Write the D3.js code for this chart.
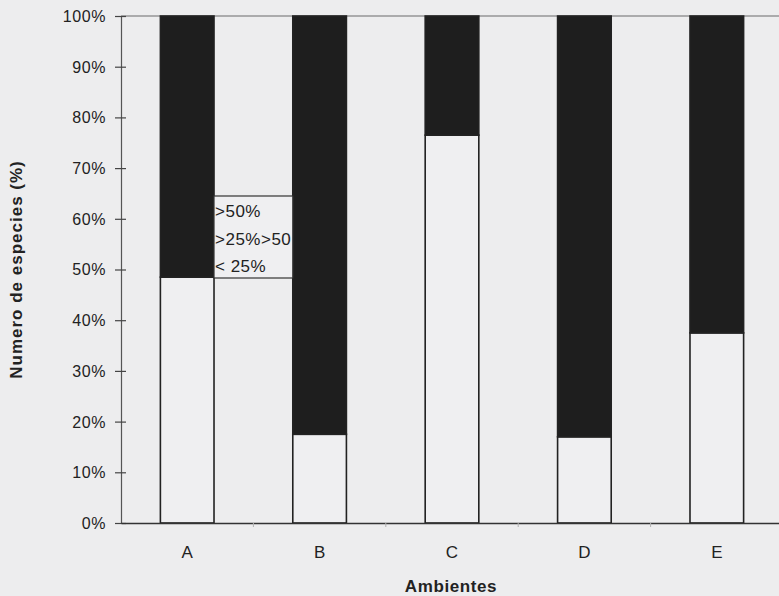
<!DOCTYPE html>
<html>
<head>
<meta charset="utf-8">
<script src="https://cdn.jsdelivr.net/npm/d3@7"></script>
<style>
  html, body { margin: 0; padding: 0; background: #ededee; }
  svg { display: block; }
  text { font-family: "Liberation Sans", Arial, sans-serif; }
</style>
</head>
<body>
<svg id="chart" width="779" height="596"></svg>
<script>
// ---- data ----
const categories = ["A", "B", "C", "D", "E"];
const seriesNames = ["< 25%", ">25%>50", ">50%"];
const lt25 = [48.5, 17.5, 76.5, 17, 37.5];
const mid2550 = [0, 0, 0, 0, 0];
const gt50 = [51.5, 82.5, 23.5, 83, 62.5];
const yTicks = [0, 10, 20, 30, 40, 50, 60, 70, 80, 90, 100];
const legendLabels = [">50%", ">25%>50", "< 25%"];

const colors = { "< 25%": "#efeff1", ">25%>50": "#8c8c8c", ">50%": "#1e1e1e" };

const svg = d3.select("#chart");
const mLeft = 121, mTop = 16, mBottom = 523, mRight = 783;

const x = d3.scaleBand().domain(categories).range([mLeft, mRight]).padding(0);
const y = d3.scaleLinear().domain([0, 100]).range([mBottom, mTop]);

const rows = categories.map((c, i) => ({ cat: c, "< 25%": lt25[i], ">25%>50": mid2550[i], ">50%": gt50[i] }));
const stacked = d3.stack().keys(seriesNames)(rows);

// top border line
svg.append("line").attr("x1", mLeft).attr("x2", 779).attr("y1", y(100)).attr("y2", y(100))
  .attr("stroke", "#6a6a6a").attr("stroke-width", 1.2);

const barW = x.bandwidth() * 0.405;

svg.append("g").selectAll("g").data(stacked).join("g")
  .attr("fill", d => colors[d.key])
  .selectAll("rect").data(d => d.filter(p => p[1] - p[0] > 0)).join("rect")
  .attr("x", d => x(d.data.cat) + x.bandwidth() / 2 - barW / 2)
  .attr("width", barW)
  .attr("y", d => y(d[1]))
  .attr("height", d => y(d[0]) - y(d[1]))
  .attr("stroke", "#222")
  .attr("stroke-width", 1.6);

// y axis
const yAxis = svg.append("g").attr("transform", `translate(${mLeft},0)`)
  .call(d3.axisLeft(y).tickValues(yTicks).tickFormat(d => d + "%").tickSize(6).tickPadding(9));
yAxis.select(".domain").attr("stroke", "#555").attr("stroke-width", 1.2);
yAxis.selectAll(".tick line").attr("x1", 5).attr("stroke", "#444").attr("stroke-width", 1.2);
yAxis.selectAll(".tick text").attr("font-size", 16).attr("fill", "#222")
  .attr("letter-spacing", "0.6px")
  .attr("font-family", "'Liberation Sans', Arial, sans-serif").attr("dy", "0.34em");

// x axis
const xAxis = svg.append("g").attr("transform", `translate(0,${mBottom})`)
  .call(d3.axisBottom(x).tickSize(0).tickPadding(23));
xAxis.select(".domain").attr("stroke", "#333").attr("stroke-width", 1.6);
xAxis.selectAll(".tick text").attr("font-size", 17).attr("fill", "#222")
  .attr("font-family", "'Liberation Sans', Arial, sans-serif");
// faint boundary ticks between categories
svg.append("g").selectAll("line").data(categories.slice(1)).join("line")
  .attr("x1", d => x(d)).attr("x2", d => x(d))
  .attr("y1", mBottom).attr("y2", mBottom + 4)
  .attr("stroke", "#b0b0b0").attr("stroke-width", 1);

// axis titles
svg.append("text")
  .attr("transform", `translate(22,${(mTop + mBottom) / 2}) rotate(-90)`)
  .attr("text-anchor", "middle").attr("font-size", 17).attr("font-weight", "bold").attr("fill", "#222")
  .attr("letter-spacing", "1px")
  .text("Numero de especies (%)");
svg.append("text")
  .attr("x", 451).attr("y", 592)
  .attr("text-anchor", "middle").attr("font-size", 17).attr("font-weight", "bold").attr("fill", "#222")
  .attr("letter-spacing", "0.6px")
  .text("Ambientes");

// legend box (swatches hidden behind bar A, as in the original)
const lgX = x("A") + x.bandwidth() / 2 + barW / 2;
const lgX2 = x("B") + x.bandwidth() / 2 - barW / 2;
const lg = svg.append("g");
lg.append("rect").attr("x", lgX).attr("y", 196).attr("width", lgX2 - lgX).attr("height", 82)
  .attr("fill", "#efeff1").attr("stroke", "#333").attr("stroke-width", 1.2);
const lgClip = svg.append("clipPath").attr("id", "lgclip");
lgClip.append("rect").attr("x", lgX).attr("y", 196).attr("width", lgX2 - lgX).attr("height", 82);
lg.append("g").attr("clip-path", "url(#lgclip)")
  .selectAll("text").data(legendLabels).join("text")
  .attr("x", lgX + 1).attr("y", (d, i) => 217 + i * 27.5)
  .attr("font-size", 17).attr("fill", "#222").attr("letter-spacing", "0.5px")
  .text(d => d);
</script>
</body>
</html>
